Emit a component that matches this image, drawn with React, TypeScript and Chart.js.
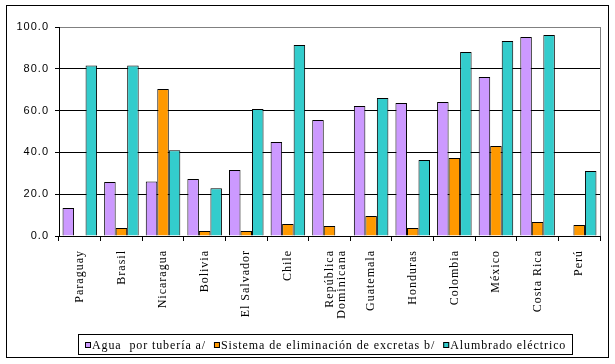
import React, { useEffect, useRef } from 'react';
import { Chart, registerables } from 'chart.js';

Chart.register(...registerables);

const categories: (string | string[])[] = [
  'Paraguay', 'Brasil', 'Nicaragua', 'Bolivia', 'El Salvador', 'Chile',
  ['República', 'Dominicana'], 'Guatemala', 'Honduras', 'Colombia', 'México', 'Costa Rica', 'Perú',
];

const agua = [13.4, 25.8, 26.1, 27.3, 31.6, 45.0, 55.5, 62.2, 63.6, 64.1, 76.1, 95.2, null];
const sistema = [null, 3.8, 70.3, 2.4, 2.4, 5.7, 4.8, 9.6, 3.8, 37.3, 43.1, 6.7, 5.3];
const alumbrado = [81.6, 81.6, 41.0, 22.8, 60.8, 91.4, null, 66.0, 36.4, 88.0, 93.3, 96.2, 31.1];

const seriesLabels = ['Agua  por tubería a/', 'Sistema de eliminación de excretas b/', 'Alumbrado eléctrico'];
const seriesColors = ['#CC99FF', '#FF9900', '#33CCCC'];

const yMin = 0;
const yMax = 100;
const yStep = 20;

const decoPlugin = {
  id: 'deco',
  beforeUpdate(chart: any) {
    chart.ctx.letterSpacing = '1px';
  },
  beforeDraw(chart: any) {
    const ctx = chart.ctx;
    ctx.save();
    ctx.fillStyle = '#ffffff';
    ctx.fillRect(0, 0, chart.width, chart.height);
    ctx.restore();
    ctx.letterSpacing = '1px';
  },
  afterDraw(chart: any) {
    const ctx = chart.ctx;
    const area = chart.chartArea;
    ctx.save();
    // gray right border of plot area
    ctx.strokeStyle = '#808080';
    ctx.lineWidth = 1;
    const rx = Math.floor(area.right) + 0.5;
    ctx.beginPath();
    ctx.moveTo(rx, Math.round(area.top));
    ctx.lineTo(rx, Math.round(area.bottom));
    ctx.stroke();

    // outer chart border
    ctx.strokeStyle = '#000000';
    ctx.strokeRect(6.5, 5.5, 602, 352);

    // legend
    ctx.letterSpacing = '0.9px';
    ctx.font = '12px "Liberation Serif"';
    ctx.textBaseline = 'alphabetic';
    ctx.textAlign = 'left';
    const boxLeft = 78;
    let x = boxLeft + 7;
    let lastEnd = x;
    chart.data.datasets.forEach((ds: any) => {
      ctx.fillStyle = ds.backgroundColor;
      ctx.fillRect(x, 342, 6, 6);
      ctx.strokeStyle = '#000';
      ctx.strokeRect(x + 0.5, 342.5, 5, 5);
      ctx.fillStyle = '#000';
      const tx = x + 7;
      ctx.fillText(ds.label, tx, 349);
      const w = ctx.measureText(ds.label).width;
      lastEnd = tx + w;
      x = tx + w + 8;
    });
    ctx.strokeStyle = '#000';
    ctx.strokeRect(boxLeft + 0.5, 334.5, Math.round(lastEnd + 6 - boxLeft), 20);
    ctx.restore();
  },
};

export default function App() {
  const ref = useRef<HTMLCanvasElement | null>(null);
  useEffect(() => {
    if (!ref.current) return;
    const chart = new Chart(ref.current, {
      type: 'bar',
      data: {
        labels: categories as any,
        datasets: [agua, sistema, alumbrado].map((d, i) => ({
          label: seriesLabels[i],
          data: d as any,
          backgroundColor: seriesColors[i],
          borderColor: '#000000',
          borderWidth: 1,
          categoryPercentage: 0.83,
          barPercentage: 1,
        })),
      },
      options: {
        responsive: false,
        animation: false,
        devicePixelRatio: 1,
        layout: { padding: { top: 27, right: 15, bottom: 0, left: 0 } },
        plugins: {
          legend: { display: false },
          tooltip: { enabled: false },
        },
        scales: {
          x: {
            offset: true,
            grid: {
              display: true,
              offset: true,
              drawOnChartArea: false,
              drawTicks: true,
              tickLength: 5,
              color: '#000000',
            },
            border: { display: true, color: '#000000', width: 1 },
            ticks: {
              autoSkip: false,
              minRotation: 90,
              maxRotation: 90,
              padding: 9,
              color: '#000000',
              font: { family: '"Liberation Serif"', size: 12, lineHeight: 1.05 },
            },
            afterFit(scale: any) {
              scale.height = 128;
            },
          },
          y: {
            min: yMin,
            max: yMax,
            grid: {
              color: (c: any) => (c.tick && c.tick.value === yMax ? '#808080' : '#000000'),
              tickColor: '#000000',
              tickLength: 4,
              drawTicks: true,
            },
            border: { display: true, color: '#000000', width: 1 },
            ticks: {
              stepSize: yStep,
              padding: 6,
              color: '#000000',
              font: { family: '"Liberation Sans"', size: 11 },
              callback: (v: any) => Number(v).toFixed(1),
            },
            afterFit(scale: any) {
              scale.width = 59;
            },
          },
        },
      },
      plugins: [decoPlugin],
    });
    return () => chart.destroy();
  }, []);
  return (
    <div style={{ position: 'absolute', left: 0, top: 0, width: 615, height: 364 }}>
      <canvas ref={ref} width={615} height={364} style={{ display: 'block' }} />
    </div>
  );
}
